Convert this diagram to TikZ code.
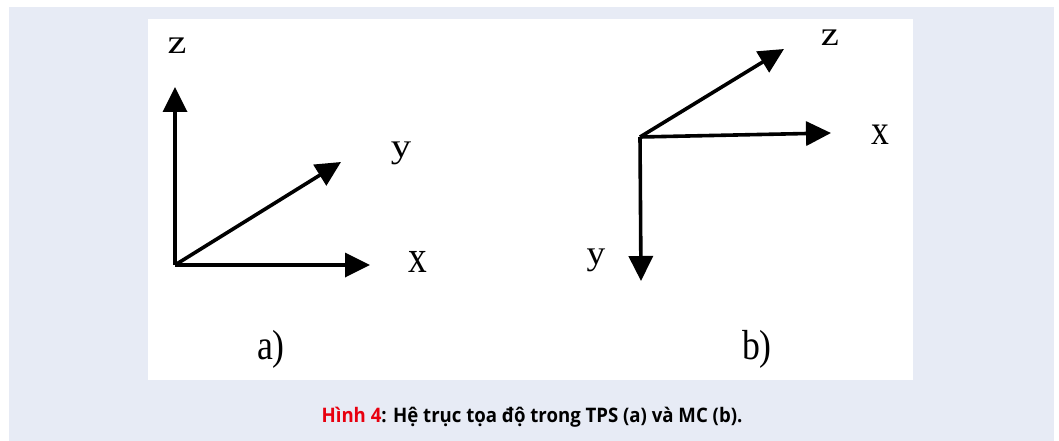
\documentclass[tikz,border=0pt]{standalone}
\usepackage{fontspec}
\setmainfont{Liberation Serif}
\newfontfamily\capfont{Open Sans}
\usetikzlibrary{arrows.meta}
\definecolor{bgblue}{HTML}{E7EBF5}
\definecolor{capred}{HTML}{E8000F}
\begin{document}
\begin{tikzpicture}[x=1pt,y=-1pt,
  axis/.style={line width=3.6pt,-{Triangle[length=25pt,width=24pt]}},
  lbl/.style={font=\fontsize{34}{38}\selectfont,inner sep=0pt},
  sub/.style={font=\fontsize{42}{46}\selectfont,inner sep=0pt}]
\useasboundingbox (0,0) rectangle (1059,441);
\fill[white] (0,0) rectangle (1059,441);
\fill[bgblue] (9,7) rectangle (1054,441);
\fill[white] (148,19) rectangle (913,380);
% (a)
\coordinate (oa) at (175,265);
\coordinate (za) at (175,87);
\coordinate (xa) at (370,265);
\coordinate (ya) at (341,162);
\draw[axis] (oa) -- (za);
\draw[axis] (oa) -- (xa);
\draw[axis] (oa) -- (ya);
\node[lbl,xscale=1.25] (lza) at (177,46) {z};
\node[lbl,xscale=1.2] (lya) at (401,153) {y};
\node[lbl,yscale=1.35,xscale=1.1] (lxa) at (418,262) {x};
\node[sub,xscale=0.85] (sa) at (271,349) {a)};
% (b)
\coordinate (ob) at (640,137);
\coordinate (zb) at (784,49);
\coordinate (xb) at (831,133);
\coordinate (yb) at (641,281);
\draw[axis] (ob) -- (zb);
\draw[axis] (ob) -- (xb);
\draw[axis] (ob) -- (yb);
\node[lbl,xscale=1.2] (lzb) at (830,38) {z};
\node[lbl,yscale=1.25,xscale=1.05] (lxb) at (880,135) {x};
\node[lbl,xscale=1.1] (lyb) at (596,260) {y};
\node[sub,xscale=0.85] (sb) at (757,349) {b)};
% caption
\node[inner sep=0pt] (cap) at (532,417) {\scalebox{0.93}[1]{\capfont\bfseries\fontsize{20}{22}\selectfont\textcolor{capred}{Hình 4}: Hệ trục tọa độ trong TPS (a) và MC (b).}};
\end{tikzpicture}
\end{document}
